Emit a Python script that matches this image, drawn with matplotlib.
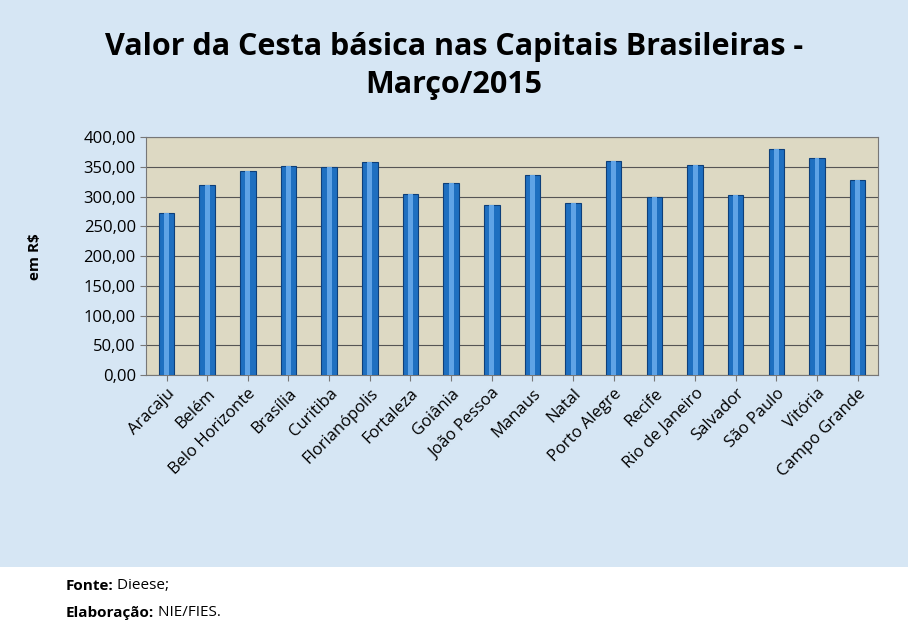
import matplotlib.pyplot as plt
import matplotlib.patches as mpatches

cities = ["Aracaju","Belém","Belo Horizonte","Brasília","Curitiba","Florianópolis","Fortaleza",
          "Goiânia","João Pessoa","Manaus","Natal","Porto Alegre","Recife","Rio de Janeiro",
          "Salvador","São Paulo","Vitória","Campo Grande"]
values = [272, 319, 343, 351, 350, 358, 304, 323, 286, 336, 289, 360, 299, 353, 302, 380, 365, 328]
yticks = [0, 50, 100, 150, 200, 250, 300, 350, 400]
ylabels = ["0,00","50,00","100,00","150,00","200,00","250,00","300,00","350,00","400,00"]

plt.rcParams['font.family'] = ['Open Sans', 'DejaVu Sans']
fig = plt.figure(figsize=(9.08, 6.38), dpi=100)
fig.patch.set_facecolor('white')
fig.patches.append(mpatches.Rectangle((0, 1-567/638), 1, 567/638, transform=fig.transFigure,
                                      facecolor='#d6e6f4', zorder=-10))
ax = fig.add_axes([0.161, 0.412, 0.806, 0.373])
ax.set_facecolor('#ddd9c3')
x = range(len(cities))
ax.bar(x, values, width=0.38, color='#1e6fc0', edgecolor='#0d3f7a', linewidth=0.8, zorder=3)
ax.bar(x, values, width=0.12, color='#5fa3e6', linewidth=0, zorder=4)
ax.set_ylim(0, 400)
ax.set_xlim(-0.5, len(cities)-0.5)
ax.set_yticks(yticks)
ax.set_yticklabels(ylabels, fontsize=12)
ax.grid(axis='y', color='#555555', linewidth=0.8, zorder=0)
ax.set_xticks(list(x))
ax.set_xticklabels(cities, rotation=45, ha='right', rotation_mode='anchor', fontsize=12)
for s in ax.spines.values():
    s.set_color('#777777')
ax.tick_params(length=4, color='#777777')
ax.set_ylabel('em R$', fontsize=11, fontweight='bold', labelpad=30)
fig.text(0.5, 0.897, 'Valor da Cesta básica nas Capitais Brasileiras -\nMarço/2015',
         ha='center', va='center', fontsize=22, fontweight='bold', linespacing=1.35)
t1 = fig.text(0.072, 0.075, 'Fonte:', fontsize=11, fontweight='bold')
ax.annotate(' Dieese;', xy=(1, 0), xycoords=t1, va='bottom', fontsize=11, annotation_clip=False)
t2 = fig.text(0.072, 0.033, 'Elaboração:', fontsize=11, fontweight='bold')
ax.annotate(' NIE/FIES.', xy=(1, 0), xycoords=t2, va='bottom', fontsize=11, annotation_clip=False)
fig.savefig('out.png', dpi=100)
